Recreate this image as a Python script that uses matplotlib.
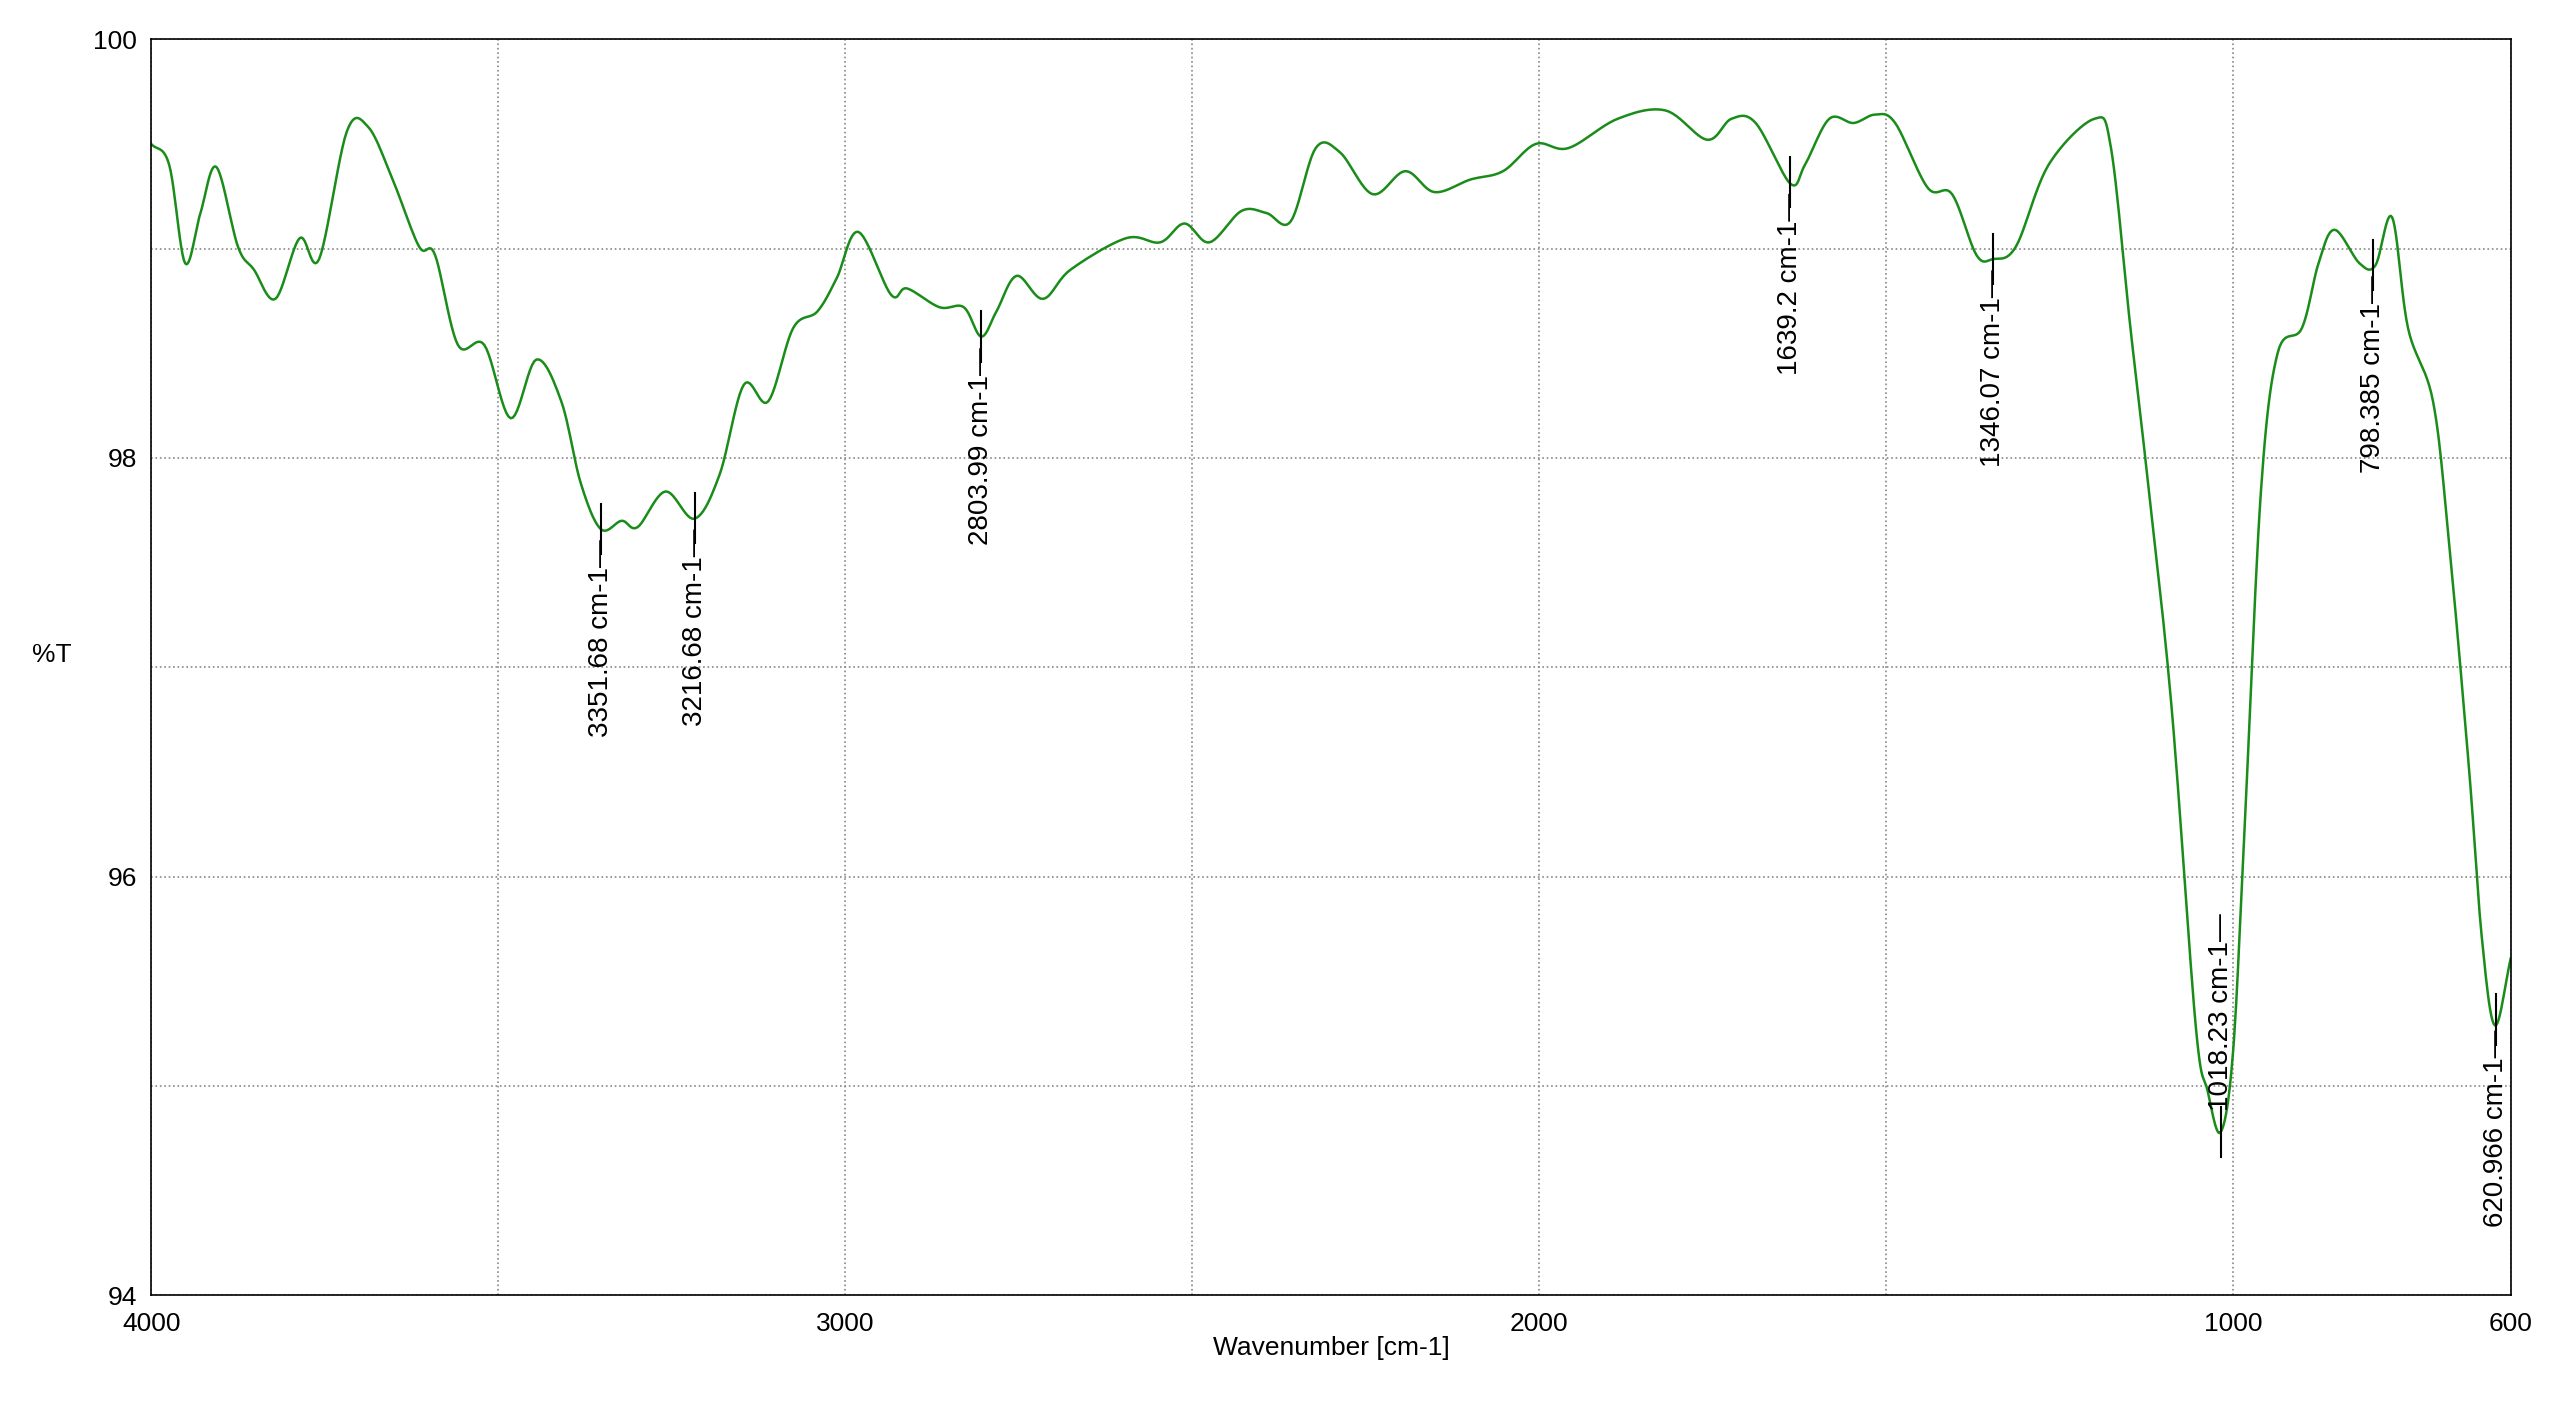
import numpy as np
import matplotlib
matplotlib.use("Agg")
import matplotlib.pyplot as plt
plt.rcParams['font.family'] = ['Liberation Sans', 'DejaVu Sans']

wavenumber = [4000,3974,3951,3929,3906,3875,3852,3821,3786,3758,3718,3687,3652,3614,3591,3558,3520,3482,3445,3409,3381,3352,3322,3299,3259,3217,3181,3146,3111,3075,3040,3012,2981,2934,2911,2864,2829,2804,2782,2753,2715,2675,2595,2546,2511,2475,2429,2393,2358,2322,2287,2240,2193,2151,2099,2052,2005,1958,1887,1818,1758,1723,1688,1638,1617,1582,1547,1516,1487,1440,1405,1370,1346,1313,1266,1200,1176,1148,1124,1089,1054,1037,1018,1000,983,960,936,901,877,854,818,795,771,748,712,689,660,642,623,600]
transmittance = [99.5,99.40,98.93,99.17,99.39,99.01,98.90,98.76,99.05,98.95,99.56,99.58,99.33,99.01,98.97,98.54,98.54,98.19,98.47,98.27,97.88,97.66,97.70,97.67,97.84,97.71,97.92,98.35,98.27,98.62,98.70,98.86,99.08,98.78,98.81,98.72,98.72,98.58,98.70,98.87,98.76,98.90,99.05,99.03,99.12,99.03,99.18,99.17,99.13,99.48,99.46,99.26,99.37,99.27,99.33,99.37,99.50,99.48,99.62,99.66,99.52,99.62,99.60,99.31,99.40,99.62,99.60,99.64,99.60,99.29,99.26,98.97,98.95,99.01,99.40,99.62,99.48,98.62,97.92,96.82,95.29,94.98,94.78,95.17,96.27,97.84,98.50,98.62,98.93,99.09,98.93,98.92,99.15,98.62,98.27,97.60,96.51,95.72,95.29,95.61]

peak_wn = [3351.68, 3216.68, 2803.99, 1639.2, 1346.07, 1018.23, 798.385, 620.966]
peak_labels = ["3351.68 cm-1", "3216.68 cm-1", "2803.99 cm-1", "1639.2 cm-1",
               "1346.07 cm-1", "1018.23 cm-1", "798.385 cm-1", "620.966 cm-1"]
peak_above = [False, False, False, False, False, True, False, False]

def catmull(x, y, n=12):
    x = np.asarray(x, float); y = np.asarray(y, float)
    xp = np.concatenate([[2*x[0]-x[1]], x, [2*x[-1]-x[-2]]])
    yp = np.concatenate([[2*y[0]-y[1]], y, [2*y[-1]-y[-2]]])
    ox, oy = [], []
    t = np.linspace(0, 1, n, endpoint=False)
    for i in range(1, len(xp)-2):
        for arr, o in ((xp, ox), (yp, oy)):
            p0, p1, p2, p3 = arr[i-1:i+3]
            o.extend(0.5*((2*p1) + (-p0+p2)*t + (2*p0-5*p1+4*p2-p3)*t**2 + (-p0+3*p1-3*p2+p3)*t**3))
    ox.append(x[-1]); oy.append(y[-1])
    return np.array(ox), np.array(oy)

fig = plt.figure(figsize=(25.62, 14.02), dpi=100)
ax = fig.add_axes([0.059, 0.076, 0.921, 0.896])
sx, sy = catmull(wavenumber, transmittance)
ax.plot(sx, sy, color="#1a8c1a", lw=1.8)
ax.set_xlim(4000, 600)
ax.set_ylim(94, 100)
ax.set_xticks([4000, 3000, 2000, 1000, 600])
ax.set_xticks([3500, 2500, 1500], minor=True)
ax.set_yticks([94, 96, 98, 100])
ax.set_yticks([95, 97, 99], minor=True)
ax.tick_params(which="both", length=0, labelsize=19)
ax.tick_params(axis="x", pad=12)
ax.tick_params(axis="y", pad=10)
ax.grid(True, which="both", ls=":", color="#888888", lw=1.2)
ax.set_xlabel("Wavenumber [cm-1]", fontsize=19, labelpad=0)
ax.set_ylabel("%T", fontsize=19, rotation=0, labelpad=30)
for s in ax.spines.values():
    s.set_linewidth(1.2)

for w, lab, up in zip(peak_wn, peak_labels, peak_above):
    yv = np.interp(w, wavenumber[::-1], transmittance[::-1])
    ax.plot([w, w], [yv-0.12, yv+0.12], color="black", lw=1.5)
    if up:
        ax.text(w, yv+0.1, lab + "\u2014", rotation=90, ha="center", va="bottom", fontsize=20)
    else:
        ax.text(w, yv-0.05, lab + "\u2014", rotation=90, ha="center", va="top", fontsize=20)

fig.savefig("out.png", dpi=100)
